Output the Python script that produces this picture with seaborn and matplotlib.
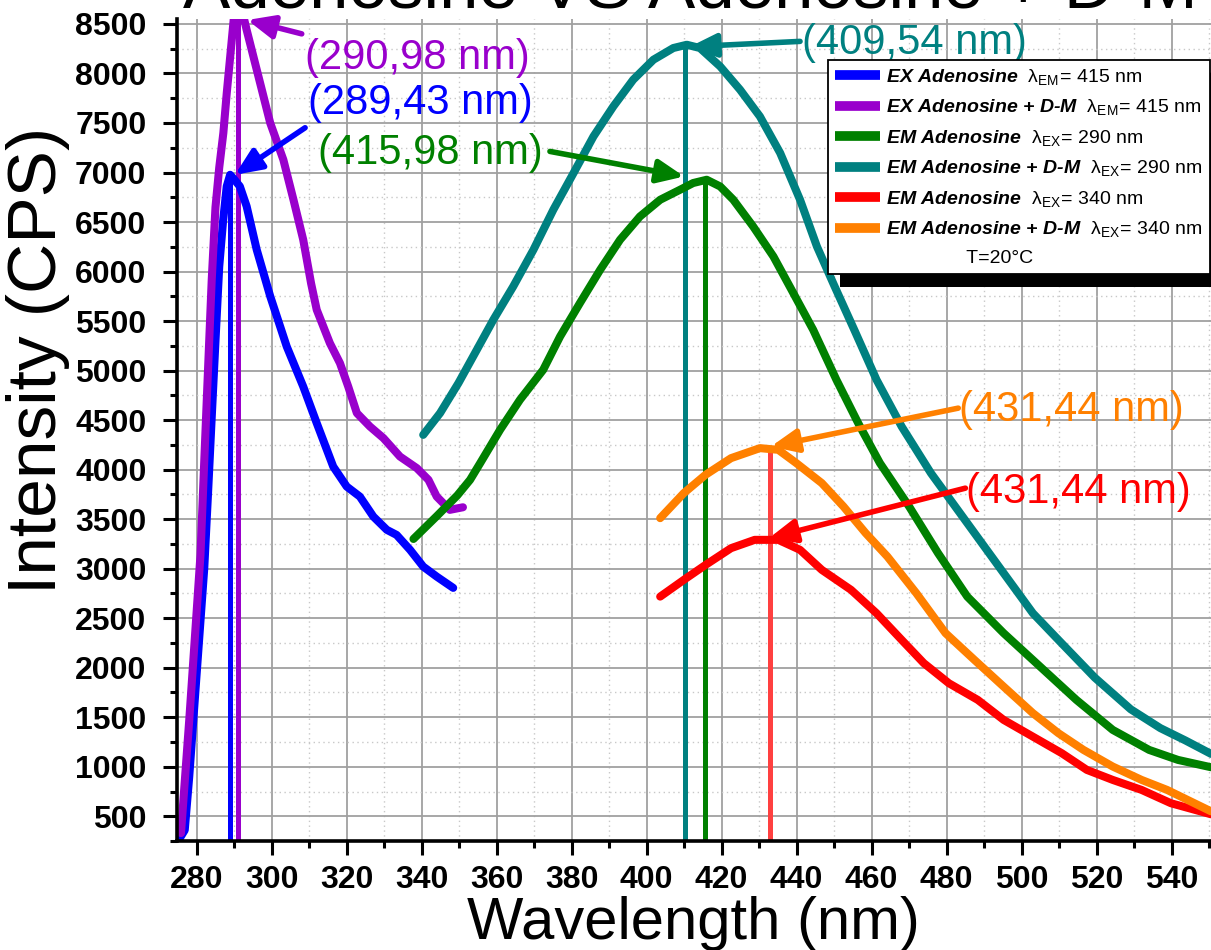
import numpy as np
import pandas as pd
import seaborn as sns
import matplotlib.pyplot as plt
from matplotlib.lines import Line2D
from matplotlib.patches import Rectangle
from matplotlib.ticker import MultipleLocator

# ---- data (wavelength nm, intensity CPS) ----
ex_ado_wl = [275.5, 276.8, 278, 280, 282, 283, 284, 285, 286, 287, 288, 288.9, 290, 291.5,
             293.3, 296, 299.6, 304, 308.4, 312, 316.4, 320, 323.5, 327.1, 330.7, 333.3,
             336.9, 340.4, 344, 348.4]
ex_ado_int = [280, 360, 900, 1950, 3000, 3750, 4530, 5300, 6050, 6500, 6860, 6977, 6930, 6860,
              6660, 6220, 5750, 5243, 4839, 4470, 4031, 3829, 3728, 3526, 3392, 3341,
              3190, 3021, 2920, 2806]

ex_dm_wl = [275.8, 278, 280, 281, 282, 283, 284, 285, 286, 287.1, 288, 289.1, 290, 291, 292,
            293.3, 296.9, 299.6, 303.1, 305.8, 308.4, 310.5, 312, 315.5, 318.2, 320.4, 322.7,
            326.2, 329.8, 334.2, 338.7, 341.8, 344, 347.5, 351]
ex_dm_int = [330, 1470, 2580, 3140, 4080, 5000, 5917, 6650, 7050, 7400, 7800, 8240, 8600, 8700,
             8650, 8442, 7904, 7500, 7129, 6725, 6321, 5880, 5614, 5278, 5075, 4839, 4571,
             4435, 4318, 4132, 4015, 3897, 3728, 3594, 3620]

em290_ado_wl = [337.8, 344, 349.5, 352.9, 355.6, 360.9, 366.2, 372.4, 376.9, 382.2, 387.6,
                392.9, 398.2, 403.6, 408.9, 412.4, 416, 419.6, 423.1, 428.4, 433.8, 439.1,
                444.4, 450.6, 456.4, 462.2, 470, 477.7, 485.5, 495.2, 504.9, 514.6, 524.3,
                534, 541.7, 550.5]
em290_ado_int = [3300, 3530, 3740, 3897, 4066, 4402, 4705, 5008, 5344, 5682, 6018,
                 6321, 6556, 6725, 6826, 6894, 6927, 6859, 6725, 6455, 6152, 5783,
                 5412, 4907, 4470, 4066, 3627, 3157, 2718, 2349, 2012, 1675, 1372,
                 1170, 1069, 995]

em290_dm_wl = [340.4, 344.9, 349.8, 354.7, 359.1, 364.4, 369.8, 375.1, 380.5, 385.8, 391.1,
               396.4, 401.8, 407.1, 410.7, 414.2, 419.6, 424.9, 430.2, 435.6, 440.9, 445.4,
               450, 455.5, 461.3, 468, 475.8, 485.5, 495.2, 503, 509.8, 519.5, 529.1, 537,
               543.7, 550.5]
em290_dm_int = [4351, 4571, 4874, 5210, 5513, 5849, 6220, 6624, 6995, 7364, 7667,
                7937, 8139, 8257, 8290, 8257, 8071, 7836, 7566, 7197, 6725, 6253,
                5860, 5400, 4907, 4435, 3965, 3460, 2955, 2550, 2281, 1900, 1580, 1390,
                1265, 1130]

em340_ado_wl = [403.6, 409.9, 415.7, 422.5, 428.8, 435.1, 440.9, 446.7, 454.5, 461.3, 468,
                473.9, 480.6, 488.3, 495.2, 503, 510.7, 517.4, 524.3, 532, 539.8, 550.5]
em340_ado_int = [2718, 2887, 3038, 3207, 3291, 3291, 3190, 2988, 2786, 2550, 2281,
                 2046, 1843, 1675, 1473, 1304, 1137, 968, 867, 766, 632, 520]

em340_dm_wl = [403.6, 409.9, 415.7, 422.5, 430.2, 435.1, 439.9, 446.7, 452.5, 458.4, 464.2,
               471.9, 479.7, 487.4, 495.2, 503, 509.8, 516.5, 524.3, 532, 538.8, 550.5]
em340_dm_int = [3510, 3763, 3948, 4116, 4217, 4200, 4066, 3864, 3627, 3359, 3122,
                2753, 2349, 2079, 1809, 1541, 1339, 1170, 1002, 867, 766, 550]

series_names = ["EX Adenosine", "EX Adenosine + D-M", "EM Adenosine 290",
                "EM Adenosine + D-M 290", "EM Adenosine 340", "EM Adenosine + D-M 340"]
series_data = [(ex_ado_wl, ex_ado_int), (ex_dm_wl, ex_dm_int),
               (em290_ado_wl, em290_ado_int), (em290_dm_wl, em290_dm_int),
               (em340_ado_wl, em340_ado_int), (em340_dm_wl, em340_dm_int)]
colors = ["#0000FF", "#9900CC", "#008000", "#008080", "#FF0000", "#FF8000"]
legend_labels = [
    r"EX Adenosine  $\mathrm{λ_{EM}}\!=\mathrm{\,415\ nm}$",
    r"EX Adenosine + D-M  $\mathrm{λ_{EM}}\!=\mathrm{\,415\ nm}$",
    r"EM Adenosine  $\mathrm{λ_{EX}}\!=\mathrm{\,290\ nm}$",
    r"EM Adenosine + D-M  $\mathrm{λ_{EX}}\!=\mathrm{\,290\ nm}$",
    r"EM Adenosine  $\mathrm{λ_{EX}}\!=\mathrm{\,340\ nm}$",
    r"EM Adenosine + D-M  $\mathrm{λ_{EX}}\!=\mathrm{\,340\ nm}$",
]

# peak drop lines
peak_wl = [289.0, 290.9, 410.1, 415.5, 432.8]
peak_int = [6977, 8700, 8290, 6927, 4217]
peak_colors = ["#0000FF", "#9900CC", "#008080", "#008000", "#FF4040"]

frames = [pd.DataFrame({"wavelength": w, "intensity": i, "series": n})
          for n, (w, i) in zip(series_names, series_data)]
df = pd.concat(frames, ignore_index=True)

sns.set_theme(style="white")
plt.rcParams["font.family"] = ["Liberation Sans", "DejaVu Sans"]
plt.rcParams["text.color"] = "black"
plt.rcParams["xtick.color"] = "black"
plt.rcParams["ytick.color"] = "black"
plt.rcParams["axes.labelcolor"] = "black"
plt.rcParams["mathtext.fontset"] = "custom"
plt.rcParams["mathtext.rm"] = "Liberation Sans"
plt.rcParams["mathtext.it"] = "Liberation Sans:italic"
plt.rcParams["mathtext.bf"] = "Liberation Sans:bold"
plt.rcParams["lines.solid_joinstyle"] = "round"

fig = plt.figure(figsize=(12.11, 9.5), dpi=100)
ax = fig.add_axes([0.1462, 0.1147, 0.8538, 0.8653])

ax.vlines(peak_wl, 250, peak_int, colors=peak_colors, linewidth=3.6, zorder=1.9)

sns.lineplot(data=df, x="wavelength", y="intensity", hue="series",
             hue_order=series_names, palette=dict(zip(series_names, colors)),
             linewidth=5.8, estimator=None, sort=False, legend=False, ax=ax)

ax.set_xlim(274.75, 550.5)
ax.set_ylim(250, 8550)

ax.xaxis.set_major_locator(MultipleLocator(20))
ax.xaxis.set_minor_locator(MultipleLocator(10))
ax.yaxis.set_major_locator(MultipleLocator(500))
ax.yaxis.set_minor_locator(MultipleLocator(250))
ax.set_yticks(np.arange(500, 8501, 500))
ax.set_yticklabels([str(v) for v in range(500, 8501, 500)], fontweight="bold", fontsize=23)
ax.set_xticks(np.arange(280, 541, 20))
ax.set_xticklabels([str(v) for v in range(280, 541, 20)], fontweight="bold", fontsize=23)

ax.tick_params(axis="both", which="major", direction="out", length=10, width=2.2,
               color="black", labelcolor="black", bottom=True, left=True)
ax.tick_params(axis="both", which="minor", direction="out", length=5, width=2.2,
               color="black", bottom=True, left=True)
ax.tick_params(axis="x", which="major", pad=7)
ax.tick_params(axis="y", which="major", pad=12)

ax.grid(True, which="major", color="#a0a0a0", linewidth=1.3)
ax.grid(True, which="minor", color="#c8c8c8", linewidth=1.0, linestyle=(0, (1, 2.5)))
ax.set_axisbelow(True)

for side in ["top", "right"]:
    ax.spines[side].set_visible(False)
for side in ["left", "bottom"]:
    ax.spines[side].set_color("black")
    ax.spines[side].set_linewidth(2.6)

ax.set_xlabel("")
ax.set_ylabel("")
fig.text(693 / 1211, 1 - 939 / 950, "Wavelength (nm)", fontsize=43, color="black",
         ha="center", va="baseline")
fig.text(38 / 1211, 1 - 360 / 950, "Intensity (CPS)", fontsize=50, rotation=90,
         color="black", ha="center", va="center")
fig.text(183 / 1211, 1 - 8 / 950, "Adenosine VS Adenosine + D-M", fontsize=51,
         color="black", ha="left", va="baseline")

# peak annotations
notes = [
    ("(290,98 nm)", "#9900CC", (308.9, 8159), (308.0, 8400), (293.5, 8540)),
    ("(289,43 nm)", "#0000FF", (309.7, 7705), (308.9, 7452), (290.2, 6977)),
    ("(415,98 nm)", "#008000", (312.3, 7200), (374.2, 7213), (410.0, 6960)),
    ("(409,54 nm)", "#008080", (441.5, 8311), (440.9, 8324), (411.5, 8270)),
    ("(431,44 nm)", "#FF8000", (483.3, 4604), (483.1, 4621), (433.1, 4233)),
    ("(431,44 nm)", "#FF0000", (485.2, 3776), (485.0, 3813), (432.6, 3308)),
]
for txt, c, pos, tail, tip in notes:
    ax.text(pos[0], pos[1], txt, color=c, fontsize=30, ha="left", va="center", zorder=6)
    ax.annotate("", xy=tip, xytext=tail,
                arrowprops=dict(arrowstyle="-|>,head_length=0.8,head_width=0.35",
                                color=c, lw=4, shrinkA=0, shrinkB=0, mutation_scale=20),
                zorder=6)

handles = [Line2D([0], [0], color=c, lw=7, solid_capstyle="butt") for c in colors]
handles.append(Line2D([0], [0], color="none"))
labels = legend_labels + [" " * 15 + "T=20°C"]
leg = ax.legend(handles, labels, loc="upper left", bbox_to_anchor=(0.6296, 0.9501),
                borderaxespad=0, frameon=True, fancybox=False, framealpha=1,
                edgecolor="black", facecolor="white", borderpad=0.35,
                handlelength=2.3, handletextpad=0.35, labelspacing=0.54,
                prop={"family": "Liberation Sans", "weight": "bold", "style": "italic",
                      "size": 14})
leg.get_frame().set_linewidth(1.3)
leg.set_zorder(7)
for t in leg.get_texts():
    t.set_color("black")
last = leg.get_texts()[-1]
last.set_fontweight("normal")
last.set_fontstyle("normal")

# black drop shadow behind the legend box
fig.canvas.draw()
bb = leg.get_window_extent().transformed(ax.transAxes.inverted())
dx, dy = 12 / 1034, 13 / 822
ax.add_patch(Rectangle((bb.x0 + dx, bb.y0 - dy), bb.width, bb.height,
                       transform=ax.transAxes, facecolor="black", edgecolor="none",
                       clip_on=False, zorder=6.9))

fig.savefig("out.png", dpi=100)
